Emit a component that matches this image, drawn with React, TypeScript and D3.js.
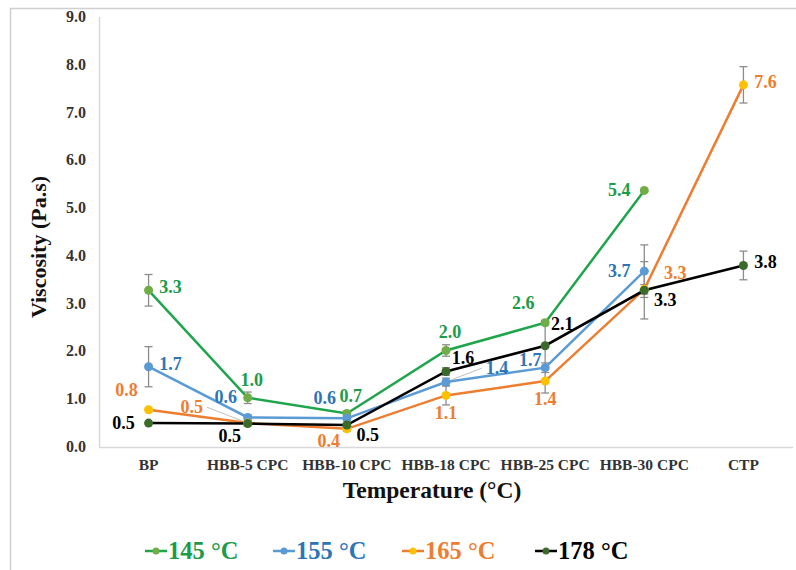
import { useEffect, useRef } from 'react';
import * as d3 from 'd3';

// categories along the x axis
const categories = ['BP', 'HBB-5 CPC', 'HBB-10 CPC', 'HBB-18 CPC', 'HBB-25 CPC', 'HBB-30 CPC', 'CTP'];
const yTicks = [0, 1, 2, 3, 4, 5, 6, 7, 8, 9];

// viscosity (Pa.s) per temperature, null = not measured
const v145 = [3.28, 1.03, 0.7, 2.02, 2.6, 5.37, null];
const v155 = [1.68, 0.62, 0.6, 1.36, 1.66, 3.68, null];
const v165 = [0.78, 0.5, 0.38, 1.08, 1.38, 3.3, 7.58];
const v178 = [0.5, 0.49, 0.46, 1.58, 2.12, 3.28, 3.8];

// standard deviations
const e145 = [0.33, 0.12, 0.05, 0.12, 0.05, 0, null];
const e155 = [0.42, 0.05, 0.05, 0.08, 0.1, 0.55, null];
const e165 = [0, 0.05, 0.05, 0.2, 0.25, 0.1, 0.38];
const e178 = [0, 0.05, 0.03, 0.08, 0.5, 0.6, 0.3];

// data label placement codes (like excel's manual label positions)
const p145 = ['r', 't', 't', 't', 'tl', 'l', null];
const p155 = ['r', 'tl', 'tl', 'R', 'lt', 'l', null];
const p165 = ['tl', 'L', 'bl', 'b', 'b', 'TR', 'r'];
const p178 = ['l', 'bl', 'br', 'tr', 'tru', 'br', 'r'];

const series = [
  { name: '145 °C', values: v145, err: e145, pos: p145, line: '#1fa64c', marker: '#70ad47', text: '#1c9b48' },
  { name: '155 °C', values: v155, err: e155, pos: p155, line: '#5b9bd5', marker: '#5b9bd5', text: '#2e75b6' },
  { name: '165 °C', values: v165, err: e165, pos: p165, line: '#ed7d31', marker: '#ffc000', text: '#ed7d31' },
  { name: '178 °C', values: v178, err: e178, pos: p178, line: '#000000', marker: '#3b6b2a', text: '#000000' },
];

const OFFSETS: Record<string, [number, number]> = {
  r: [22, -3], l: [-25, 0], lt: [-15, -8], t: [4, -18], tl: [-22, -20], tr: [17, -14],
  tru: [17, -22], TR: [31, -16], bl: [-18, 12], br: [21, 10], b: [0, 18], L: [-56, -16], R: [51, -14],
};

const FONT = '"Times New Roman", "Liberation Serif", serif';

export default function App() {
  const svgRef = useRef<SVGSVGElement>(null);

  useEffect(() => {
    const svg = d3.select(svgRef.current);
    svg.selectAll('*').remove();

    const x = d3.scaleBand().domain(categories).range([99, 793]).padding(0);
    const y = d3.scaleLinear().domain([0, 9]).range([447, 17]);
    const cx = (i: number) => (x(categories[i]) ?? 0) + x.bandwidth() / 2;

    // outer chart border
    svg.append('rect').attr('x', 10.5).attr('y', 8.5).attr('width', 820).attr('height', 620)
      .attr('fill', 'white').attr('stroke', '#cfcfcf').attr('stroke-width', 1.5);

    // axis lines
    svg.append('line').attr('x1', 99.5).attr('x2', 99.5).attr('y1', y(9)).attr('y2', y(0))
      .attr('stroke', '#d9d9d9').attr('stroke-width', 1.5);
    svg.append('line').attr('x1', 99).attr('x2', 793).attr('y1', y(0) + 0.5).attr('y2', y(0) + 0.5)
      .attr('stroke', '#d9d9d9').attr('stroke-width', 1.5);

    // y tick labels
    svg.append('g').selectAll('text').data(yTicks).join('text')
      .attr('x', 86).attr('y', d => y(d) + 5)
      .attr('text-anchor', 'end').attr('font-family', FONT).attr('font-weight', 'bold')
      .attr('font-size', 16).attr('fill', '#333')
      .text(d => d.toFixed(1));

    // x tick labels
    svg.append('g').selectAll('text').data(categories).join('text')
      .attr('x', (_, i) => cx(i)).attr('y', 470)
      .attr('text-anchor', 'middle').attr('font-family', FONT).attr('font-weight', 'bold')
      .attr('font-size', 15.5).attr('fill', '#333')
      .text(d => d);

    // axis titles
    svg.append('text').attr('x', 432).attr('y', 498).attr('text-anchor', 'middle')
      .attr('font-family', FONT).attr('font-weight', 'bold').attr('font-size', 23.5).attr('fill', '#111')
      .text('Temperature (°C)');
    svg.append('text').attr('transform', 'translate(46,247) rotate(-90)').attr('text-anchor', 'middle')
      .attr('font-family', FONT).attr('font-weight', 'bold').attr('font-size', 22).attr('fill', '#111')
      .text('Viscosity (Pa.s)');

    const plot = svg.append('g');

    // error bars first (under the lines)
    series.forEach(s => {
      s.values.forEach((v, i) => {
        const e = s.err[i];
        if (v == null || !e) return;
        const g = plot.append('g').attr('stroke', '#8c8c8c').attr('stroke-width', 1.3);
        const xx = cx(i);
        g.append('line').attr('x1', xx).attr('x2', xx).attr('y1', y(v - e)).attr('y2', y(v + e));
        g.append('line').attr('x1', xx - 4).attr('x2', xx + 4).attr('y1', y(v - e)).attr('y2', y(v - e));
        g.append('line').attr('x1', xx - 4).attr('x2', xx + 4).attr('y1', y(v + e)).attr('y2', y(v + e));
      });
    });

    const line = d3.line<number | null>()
      .defined(d => d != null)
      .x((_, i) => cx(i))
      .y(d => y(d as number));

    series.forEach(s => {
      plot.append('path').datum(s.values).attr('d', line)
        .attr('fill', 'none').attr('stroke', s.line).attr('stroke-width', 2.5);
    });

    series.forEach(s => {
      s.values.forEach((v, i) => {
        if (v == null) return;
        plot.append('circle').attr('cx', cx(i)).attr('cy', y(v)).attr('r', 4.5).attr('fill', s.marker);
      });
    });

    // data labels
    series.forEach(s => {
      s.values.forEach((v, i) => {
        const p = s.pos[i];
        if (v == null || !p) return;
        const [dx, dy] = OFFSETS[p];
        const px = cx(i), py = y(v);
        if (p === 'L' || p === 'R') {
          plot.append('line').attr('x1', px + (p === 'L' ? -5 : 5)).attr('y1', py - 2)
            .attr('x2', px + dx + (p === 'L' ? 15 : -15)).attr('y2', py + dy)
            .attr('stroke', '#bfbfbf').attr('stroke-width', 1);
        }
        plot.append('text').attr('x', px + dx).attr('y', py + dy + 6)
          .attr('text-anchor', 'middle').attr('font-family', FONT).attr('font-weight', 'bold')
          .attr('font-size', 18).attr('fill', s.text)
          .text(v.toFixed(1));
      });
    });

    // legend
    const legX = [145, 273, 402, 535];
    const leg = svg.append('g');
    series.forEach((s, i) => {
      const lx = legX[i];
      leg.append('line').attr('x1', lx).attr('x2', lx + 22).attr('y1', 551).attr('y2', 551)
        .attr('stroke', s.line).attr('stroke-width', 2.5);
      leg.append('circle').attr('cx', lx + 11).attr('cy', 551).attr('r', 3.5).attr('fill', s.marker);
      leg.append('text').attr('x', lx + 23).attr('y', 559).attr('font-family', FONT)
        .attr('font-weight', 'bold').attr('font-size', 24.5).attr('fill', s.text)
        .text(s.name);
    });
  }, []);

  return (
    <svg ref={svgRef} width={796} height={570}
      style={{ position: 'absolute', left: 0, top: 0, background: 'white' }} />
  );
}
